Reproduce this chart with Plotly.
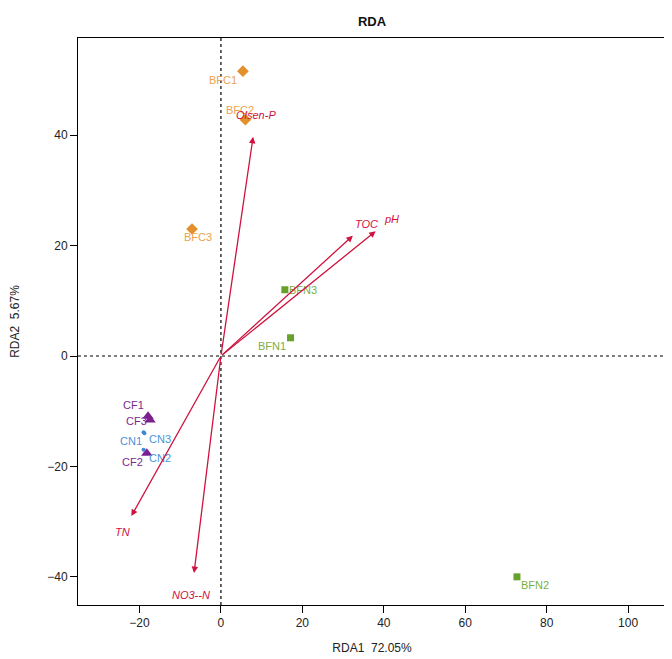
import plotly.graph_objects as go

# ---- data ----
site_names = ["BFC1", "BFC2", "BFC3", "BFN1", "BFN2", "BFN3",
              "CF1", "CF2", "CF3", "CN1", "CN2", "CN3"]
site_groups = ["BFC", "BFC", "BFC", "BFN", "BFN", "BFN",
               "CF", "CF", "CF", "CN", "CN", "CN"]
site_x = [5.4, 6.0, -7.1, 17.1, 72.7, 15.7, -17.9, -18.2, -17.4, -19.0, -19.0, -18.8]
site_y = [51.6, 42.8, 23.0, 3.3, -40.0, 12.0, -10.9, -17.6, -11.6, -13.8, -17.0, -14.0]

env_names = ["Olsen-P", "TOC", "pH", "TN", "NO3--N"]
env_x = [7.9, 32.4, 38.0, -22.0, -6.6]
env_y = [39.7, 21.8, 22.6, -29.0, -39.3]

x_ticks = [-20, 0, 20, 40, 60, 80, 100]
y_ticks = [-40, -20, 0, 20, 40]

# ---- styles ----
FONT = "Liberation Sans, Arial, Helvetica, sans-serif"
group_style = {
    "BFC": dict(symbol="diamond", color="#E3912C", size=9, label="#EBA24C"),
    "BFN": dict(symbol="square", color="#67A12B", size=7, label="#7DAE44"),
    "CF": dict(symbol="triangle-up", color="#7B1E8E", size=10, label="#7D2A90"),
    "CN": dict(symbol="circle", color="#3E87D2", size=4, label="#4B92DA"),
}
# label offsets in pixels (dx right, dy down) relative to each point
label_offset = {
    "BFC1": (-20, 9), "BFC2": (-5, -10), "BFC3": (6, 8),
    "BFN1": (-19, 8), "BFN2": (18, 8), "BFN3": (18, 0),
    "CF1": (-15, -11), "CF2": (-14, 9), "CF3": (-14, 1),
    "CN1": (-13, 9), "CN2": (16, 8), "CN3": (16, 6),
}
ARROW = "#D0123E"

fig = go.Figure()

# reference lines
fig.add_hline(y=0, line=dict(color="black", width=1.2, dash="3px,3px"), layer="below")
fig.add_vline(x=0, line=dict(color="black", width=1.2, dash="3px,3px"), layer="below")

# site points
for g, st in group_style.items():
    xs = [x for x, gg in zip(site_x, site_groups) if gg == g]
    ys = [y for y, gg in zip(site_y, site_groups) if gg == g]
    fig.add_trace(go.Scatter(
        x=xs, y=ys, mode="markers", name=g, showlegend=False,
        marker=dict(symbol=st["symbol"], color=st["color"], size=st["size"],
                    line=dict(width=0)),
        hoverinfo="skip"))

# site labels
for n, g, x, y in zip(site_names, site_groups, site_x, site_y):
    dx, dy = label_offset[n]
    fig.add_annotation(x=x, y=y, text=n, showarrow=False, xshift=dx, yshift=-dy,
                       font=dict(family=FONT, size=11, color=group_style[g]["label"]))

# environmental arrows and labels
for n, x, y in zip(env_names, env_x, env_y):
    fig.add_annotation(x=x, y=y, ax=0, ay=0, axref="x", ayref="y", xref="x", yref="y",
                       showarrow=True, arrowhead=2, arrowsize=1.0, arrowwidth=1.3,
                       arrowcolor=ARROW, text="")
    fig.add_annotation(x=x * 1.1, y=y * 1.1, text="<i>%s</i>" % n, showarrow=False,
                       font=dict(family=FONT, size=11, color=ARROW))

axis_common = dict(showline=True, mirror=True, linecolor="black", linewidth=1,
                   ticks="outside", ticklen=7, tickwidth=1, tickcolor="black",
                   showgrid=False, zeroline=False, automargin=False,
                   tickfont=dict(family=FONT, size=12, color="#222222"))

fig.update_layout(
    width=672, height=659,
    margin=dict(l=70, r=14, t=30, b=62),
    paper_bgcolor="white", plot_bgcolor="white",
    title=dict(text="<b>RDA</b>", x=0.5, xref="paper", y=1 - 13 / 659, yref="container",
               xanchor="center", yanchor="middle",
               font=dict(family=FONT, size=13, color="#111111")),
    xaxis=dict(range=[-35.1, 109.3], tickvals=x_ticks,
               title=dict(text="RDA1  72.05%", standoff=14,
                          font=dict(family=FONT, size=12, color="#222222")),
               **axis_common),
    yaxis=dict(range=[-45.1, 57.6], tickvals=y_ticks,
               title=dict(text="RDA2  5.67%", standoff=26,
                          font=dict(family=FONT, size=12, color="#222222")),
               **axis_common),
)

fig.write_html("out.html")
